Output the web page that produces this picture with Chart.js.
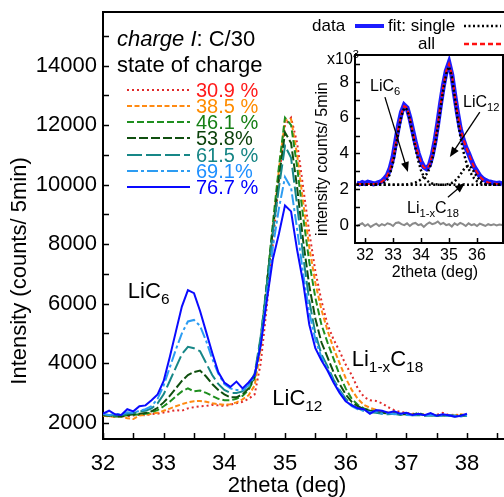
<!DOCTYPE html>
<html>
<head>
<meta charset="utf-8">
<script src="https://cdn.jsdelivr.net/npm/chart.js@4.4.0/dist/chart.umd.min.js"></script>
<style>
  html, body { margin: 0; padding: 0; background: #fff; }
  #wrap { position: relative; width: 504px; height: 497px; overflow: hidden; }
  #main { position: absolute; left: 0; top: 0; }
  #inset { position: absolute; left: 300px; top: 0; }
</style>
</head>
<body>
<div id="wrap">
  <canvas id="main" width="504" height="497"></canvas>
  <canvas id="inset" width="204" height="290"></canvas>
</div>
<script>
const FONT = '"Liberation Sans", Arial, sans-serif';

// ---- main plot data (2theta in deg, intensity in counts / 5 min) ----
const theta = [
  32.0, 32.1, 32.2, 32.3, 32.4, 32.5, 32.6, 32.7, 32.8, 32.9,
  33.0, 33.1, 33.2, 33.3, 33.4, 33.5, 33.6, 33.7, 33.8, 33.9,
  34.0, 34.1, 34.2, 34.3, 34.4, 34.5, 34.6, 34.7, 34.8, 34.9,
  35.0, 35.1, 35.2, 35.3, 35.4, 35.5, 35.6, 35.7, 35.8, 35.9,
  36.0, 36.1, 36.2, 36.3, 36.4, 36.5, 36.6, 36.7, 36.8, 36.9,
  37.0, 37.1, 37.2, 37.3, 37.4, 37.5, 37.6, 37.7, 37.8, 37.9,
  38.0
];
const soc309 = [
  2250, 2220, 2200, 2230, 2210, 2240, 2260, 2250, 2290, 2300,
  2340, 2380, 2420, 2400, 2480, 2520, 2550, 2560, 2600, 2580,
  2560, 2600, 2650, 2700, 2800, 2950, 4000, 5900, 8000, 10200,
  12000, 12250, 11400, 9900, 8400, 7100, 6100, 5300, 4800, 4400,
  3950, 3600, 3150, 2870, 2750, 2730, 2650, 2520, 2420, 2360,
  2330, 2300, 2290, 2270, 2280, 2260, 2330, 2250, 2270, 2240,
  2260
];
const soc385 = [
  2230, 2210, 2200, 2220, 2150, 2120, 2240, 2260, 2300, 2330,
  2400, 2470, 2550, 2620, 2680, 2720, 2730, 2700, 2650, 2620,
  2600, 2620, 2680, 2780, 2920, 3250, 4500, 6400, 8500, 10500,
  12150, 12200, 11000, 9400, 7900, 6700, 5800, 5100, 4500, 4000,
  3500, 3100, 2800, 2600, 2500, 2430, 2380, 2340, 2320, 2300,
  2290, 2270, 2280, 2260, 2250, 2250, 2240, 2260, 2230, 2280,
  2250
];
const soc461 = [
  2260, 2230, 2210, 2220, 2250, 2260, 2280, 2300, 2350, 2420,
  2550, 2700, 2880, 3050, 3150, 3050, 3080, 3000, 2900, 2800,
  2750, 2750, 2800, 2900, 3100, 3500, 4800, 6700, 8700, 10600,
  12250, 12000, 10600, 8900, 7400, 6200, 5300, 4700, 4150, 3600,
  3150, 2800, 2600, 2480, 2420, 2380, 2330, 2310, 2300, 2280,
  2300, 2260, 2330, 2250, 2270, 2240, 2260, 2240, 2230, 2250,
  2240
];
const soc538 = [
  2250, 2240, 2220, 2200, 2250, 2280, 2300, 2320, 2380, 2500,
  2680, 2900, 3150, 3400, 3600, 3700, 3750, 3550, 3300, 3100,
  2950, 2850, 2850, 2950, 3150, 3550, 4800, 6600, 8500, 10200,
  11750, 11400, 9900, 8100, 6600, 5500, 4700, 4200, 3700, 3300,
  2950, 2700, 2550, 2450, 2400, 2350, 2330, 2300, 2310, 2270,
  2290, 2260, 2300, 2250, 2260, 2230, 2250, 2240, 2220, 2240,
  2250
];
const soc615 = [
  2280, 2260, 2230, 2250, 2300, 2320, 2380, 2400, 2480, 2650,
  2950, 3400, 3850, 4300, 4550, 4500, 4400, 4000, 3600, 3300,
  3100, 3000, 3000, 3050, 3250, 3650, 4900, 6600, 8400, 9900,
  11300, 10900, 9300, 7600, 6100, 5000, 4300, 3900, 3450, 3100,
  2800, 2600, 2480, 2400, 2350, 2330, 2300, 2280, 2300, 2260,
  2280, 2250, 2260, 2230, 2250, 2220, 2240, 2230, 2210, 2230,
  2230
];
const soc691 = [
  2300, 2250, 2300, 2270, 2350, 2330, 2400, 2450, 2550, 2800,
  3250, 3850, 4450, 5000, 5400, 5450, 5250, 4750, 4150, 3650,
  3300, 3150, 3100, 3100, 3250, 3550, 4700, 6300, 7900, 9200,
  10250, 9900, 8500, 7000, 5700, 4800, 4200, 3800, 3400, 3050,
  2750, 2550, 2450, 2400, 2350, 2380, 2300, 2320, 2280, 2300,
  2260, 2250, 2280, 2230, 2260, 2240, 2220, 2250, 2230, 2210,
  2240
];
const soc767 = [
  2300, 2400, 2280, 2260, 2450, 2380, 2550, 2580, 2750, 2950,
  3400, 4200, 5050, 5900, 6450, 6350, 5750, 5050, 4350, 3700,
  3350, 3200, 3380, 3150, 3350, 3600, 4600, 6100, 7500, 8350,
  9300, 9100, 7800, 6700, 5300, 4500, 4100, 3750, 3350, 3000,
  2720, 2580, 2480, 2450, 2300, 2420, 2400, 2330, 2380, 2300,
  2330, 2260, 2300, 2250, 2320, 2230, 2280, 2250, 2200, 2230,
  2300
];
const socLabels = ['30.9 %', '38.5 %', '46.1 %', '53.8%', '61.5 %', '69.1%', '76.7 %'];
const xTicks = [32, 33, 34, 35, 36, 37, 38];
const yTicks = [2000, 4000, 6000, 8000, 10000, 12000, 14000];

// ---- inset data (x10^3 counts / 5 min) ----
const insetTheta = [
  31.7, 31.8, 31.9,
  32.0, 32.1, 32.2, 32.3, 32.4, 32.5, 32.6, 32.7, 32.8, 32.9,
  33.0, 33.1, 33.2, 33.3, 33.4, 33.5, 33.6, 33.7, 33.8, 33.9,
  34.0, 34.1, 34.2, 34.3, 34.4, 34.5, 34.6, 34.7, 34.8, 34.9,
  35.0, 35.1, 35.2, 35.3, 35.4, 35.5, 35.6, 35.7, 35.8, 35.9,
  36.0, 36.1, 36.2, 36.3, 36.4, 36.5, 36.6, 36.7, 36.8, 36.9
];
const insetData = [
  2.35, 2.30, 2.38,
  2.32, 2.40, 2.36, 2.30, 2.33, 2.38, 2.45, 2.60, 2.80, 3.20,
  3.80, 4.70, 5.60, 6.30, 6.70, 6.55, 6.00, 5.30, 4.60, 4.00,
  3.55, 3.25, 3.15, 3.35, 3.90, 4.70, 5.70, 6.80, 7.80, 8.60,
  9.05, 8.40, 7.30, 6.30, 5.40, 4.80, 4.35, 4.00, 3.60, 3.25,
  3.00, 2.75, 2.60, 2.50, 2.42, 2.40, 2.35, 2.33, 2.35, 2.30
];
const insetFitAll = [
  2.30, 2.30, 2.30,
  2.30, 2.30, 2.30, 2.30, 2.31, 2.35, 2.42, 2.55, 2.78, 3.15,
  3.75, 4.60, 5.50, 6.25, 6.65, 6.55, 6.00, 5.25, 4.55, 3.95,
  3.50, 3.22, 3.15, 3.35, 3.90, 4.70, 5.70, 6.80, 7.80, 8.60,
  9.00, 8.45, 7.35, 6.30, 5.45, 4.85, 4.40, 4.00, 3.60, 3.22,
  2.95, 2.72, 2.55, 2.45, 2.38, 2.34, 2.32, 2.30, 2.30, 2.30
];
const fitLiC6 = [
  2.25, 2.25, 2.25,
  2.25, 2.25, 2.25, 2.25, 2.25, 2.27, 2.30, 2.38, 2.55, 2.90,
  3.50, 4.35, 5.30, 6.10, 6.55, 6.45, 5.90, 5.10, 4.30, 3.60,
  3.05, 2.70, 2.50, 2.38, 2.32, 2.28, 2.26, 2.25, 2.25, 2.25,
  2.25, 2.25, 2.25, 2.25, 2.25, 2.25, 2.25, 2.25, 2.25, 2.25,
  2.25, 2.25, 2.25, 2.25, 2.25, 2.25, 2.25, 2.25, 2.25, 2.25
];
const fitLiC12 = [
  2.25, 2.25, 2.25,
  2.25, 2.25, 2.25, 2.25, 2.25, 2.25, 2.25, 2.25, 2.25, 2.25,
  2.25, 2.25, 2.25, 2.25, 2.25, 2.27, 2.30, 2.33, 2.38, 2.45,
  2.55, 2.70, 2.85, 3.15, 3.65, 4.45, 5.45, 6.55, 7.60, 8.45,
  8.85, 8.30, 7.20, 6.00, 5.00, 4.20, 3.60, 3.15, 2.85, 2.60,
  2.45, 2.36, 2.30, 2.27, 2.25, 2.25, 2.25, 2.25, 2.25, 2.25
];
const fitLiC18 = [
  2.25, 2.25, 2.25,
  2.25, 2.25, 2.25, 2.25, 2.25, 2.25, 2.25, 2.25, 2.25, 2.25,
  2.25, 2.25, 2.25, 2.25, 2.25, 2.25, 2.25, 2.25, 2.25, 2.25,
  2.25, 2.25, 2.25, 2.25, 2.25, 2.25, 2.25, 2.25, 2.25, 2.27,
  2.30, 2.35, 2.45, 2.60, 2.80, 3.05, 3.25, 3.30, 3.20, 2.95,
  2.70, 2.50, 2.38, 2.30, 2.27, 2.25, 2.25, 2.25, 2.25, 2.25
];
const residual = [
  -0.05, 0.02, 0.10,
  -0.05, 0.05, -0.10, 0.00, 0.08, -0.05, 0.05, -0.02, 0.10, 0.05,
  -0.05, 0.12, 0.15, 0.05, 0.00, 0.10, -0.05, 0.08, 0.12, 0.00,
  0.05, -0.10, 0.05, 0.15, 0.05, 0.10, 0.20, 0.05, 0.12, 0.00,
  0.05, -0.08, 0.10, 0.00, 0.12, 0.05, -0.05, 0.10, 0.00, 0.05,
  -0.05, 0.08, 0.02, -0.05, 0.05, 0.00, 0.05, -0.02, 0.03, 0.00
];
const insetXTicks = [32, 33, 34, 35, 36];
const insetYTicks = [0, 2, 4, 6, 8];

// ---- styles ----
const socSeries = [soc309, soc385, soc461, soc538, soc615, soc691, soc767];
const lineColors = ['#e02a2a', '#ff8a12', '#1f8f1f', '#0f4f0f', '#178787', '#2c9cf2', '#0a0aff'];
const textColors = ['#ff1a1a', '#ff8c00', '#168016', '#0c420c', '#168585', '#1e90ff', '#0000ff'];
const dashes = [[2, 3], [5, 2.5], [7, 3], [9, 3], [15, 4], [11, 3, 3, 3], []];

function pts(xs, ys) {
  return xs.map((t, i) => ({ x: t, y: ys[i] }));
}

// text with italic / sub / superscript parts
function richText(ctx, x, y, parts, size) {
  let cx = x;
  for (const p of parts) {
    const small = p[1] === 'sub' || p[1] === 'sup';
    const s = small ? size * 0.7 : size;
    ctx.font = (p[1] === 'italic' ? 'italic ' : '') + s + 'px ' + FONT;
    const dy = p[1] === 'sub' ? size * 0.27 : p[1] === 'sup' ? -size * 0.4 : 0;
    ctx.fillText(p[0], cx, y + dy);
    cx += ctx.measureText(p[0]).width;
  }
}

function arrow(ctx, x1, y1, x2, y2) {
  const a = Math.atan2(y2 - y1, x2 - x1), L = 10, W = 4;
  const c = Math.cos(a), s = Math.sin(a);
  ctx.beginPath(); ctx.moveTo(x1, y1); ctx.lineTo(x2 - L * c * 0.8, y2 - L * s * 0.8); ctx.stroke();
  ctx.beginPath();
  ctx.moveTo(x2, y2);
  ctx.lineTo(x2 - L * c + W * s, y2 - L * s - W * c);
  ctx.lineTo(x2 - L * c - W * s, y2 - L * s + W * c);
  ctx.closePath(); ctx.fill();
}

function inTicks(ctx, scale, vals, len, area) {
  ctx.beginPath();
  for (const v of vals) {
    if (scale.isHorizontal()) {
      const px = Math.round(scale.getPixelForValue(v)) + 0.5;
      ctx.moveTo(px, area.bottom); ctx.lineTo(px, area.bottom - len);
    } else {
      const py = Math.round(scale.getPixelForValue(v)) + 0.5;
      ctx.moveTo(area.left, py); ctx.lineTo(area.left + len, py);
    }
  }
  ctx.stroke();
}

// ---- main chart decorations ----
const mainDecor = {
  id: 'mainDecor',
  afterDraw(chart) {
    const { ctx, chartArea: a, scales: { x, y } } = chart;
    ctx.save();
    ctx.strokeStyle = '#000';
    ctx.fillStyle = '#000';
    ctx.lineWidth = 2;
    ctx.beginPath(); ctx.moveTo(a.left - 1, a.top); ctx.lineTo(a.right, a.top); ctx.stroke();

    ctx.lineWidth = 1.5;
    const xm = [], ym = [];
    for (let v = 32; v <= 38.6; v += 0.5) xm.push(v);
    for (let v = 2000; v <= 15000; v += 1000) ym.push(v);
    inTicks(ctx, x, xm, 6, a);
    inTicks(ctx, y, ym, 6, a);

    // axis titles
    ctx.textBaseline = 'middle';
    ctx.textAlign = 'center';
    ctx.font = '22px ' + FONT;
    ctx.fillText('2theta (deg)', 287, 486);
    ctx.save();
    ctx.translate(20, 271);
    ctx.rotate(-Math.PI / 2);
    ctx.fillText('Intensity (counts/ 5min)', 0, 0);
    ctx.restore();

    // header and legend
    ctx.textAlign = 'left';
    ctx.textBaseline = 'alphabetic';
    richText(ctx, 117, 46, [['charge I', 'italic'], [': C/30', '']], 22);
    richText(ctx, 117, 72, [['state of charge', '']], 22);
    const rowY = [90, 106, 122, 138, 155, 171, 187];
    chart.data.datasets.forEach((ds, i) => {
      ctx.strokeStyle = ds.borderColor;
      ctx.lineWidth = 2;
      ctx.setLineDash(ds.borderDash);
      ctx.beginPath(); ctx.moveTo(127, rowY[i]); ctx.lineTo(190, rowY[i]); ctx.stroke();
      ctx.setLineDash([]);
      ctx.fillStyle = textColors[i];
      richText(ctx, 196, rowY[i] + 7, [[ds.label, '']], 20);
    });

    // phase labels
    ctx.fillStyle = '#000';
    richText(ctx, x.getPixelForValue(32.41), y.getPixelForValue(6200), [['LiC', ''], ['6', 'sub']], 22);
    richText(ctx, x.getPixelForValue(34.79), y.getPixelForValue(2600), [['LiC', ''], ['12', 'sub']], 22);
    richText(ctx, x.getPixelForValue(36.1), y.getPixelForValue(3900), [['Li', ''], ['1-x', 'sub'], ['C', ''], ['18', 'sub']], 22);
    ctx.restore();
  }
};

new Chart(document.getElementById('main'), {
  type: 'line',
  data: {
    datasets: socSeries.map((vals, i) => ({
      label: socLabels[i],
      data: pts(theta, vals),
      borderColor: lineColors[i],
      borderDash: dashes[i],
      borderWidth: 2,
      pointRadius: 0,
      fill: false,
      tension: 0,
      order: socSeries.length - i
    }))
  },
  options: {
    responsive: false,
    animation: false,
    devicePixelRatio: 1,
    layout: { padding: { top: 12, left: 0, right: 0, bottom: 0 } },
    plugins: { legend: { display: false }, tooltip: { enabled: false } },
    scales: {
      x: {
        type: 'linear', min: 32, max: 38.61,
        afterBuildTicks: s => { s.ticks = xTicks.map(v => ({ value: v })); },
        afterFit: s => { s.height = 58; s.paddingLeft = 0; s.paddingRight = 0; },
        grid: { display: false, drawTicks: false },
        border: { display: true, color: '#000', width: 2 },
        ticks: { color: '#000', padding: 12, maxRotation: 0, font: { family: FONT, size: 22 }, callback: v => String(v) }
      },
      y: {
        type: 'linear', min: 1450, max: 15800,
        afterBuildTicks: s => { s.ticks = yTicks.map(v => ({ value: v })); },
        afterFit: s => { s.width = 103; s.paddingTop = 0; s.paddingBottom = 0; },
        grid: { display: false, drawTicks: false },
        border: { display: true, color: '#000', width: 2 },
        ticks: { color: '#000', padding: 6, font: { family: FONT, size: 22 }, callback: v => String(v) }
      }
    }
  },
  plugins: [mainDecor]
});

// ---- inset decorations ----
const insetDecor = {
  id: 'insetDecor',
  afterDraw(chart) {
    const { ctx, chartArea: a, scales: { x, y } } = chart;
    ctx.save();
    ctx.strokeStyle = '#000';
    ctx.fillStyle = '#000';
    ctx.lineWidth = 2;
    ctx.strokeRect(a.left, a.top, a.right - a.left, a.bottom - a.top);
    ctx.lineWidth = 1.5;
    inTicks(ctx, x, insetXTicks, 5, a);
    const ym = [];
    for (let v = 0; v <= 9; v += 1) ym.push(v);
    inTicks(ctx, y, ym, 5, a);

    ctx.textAlign = 'center';
    ctx.textBaseline = 'middle';
    ctx.font = '16px ' + FONT;
    ctx.fillText('2theta (deg)', 135, 273);
    ctx.save();
    ctx.translate(23, 159);
    ctx.rotate(-Math.PI / 2);
    ctx.fillText('intensity counts/ 5min', 0, 0);
    ctx.restore();

    ctx.textAlign = 'left';
    ctx.textBaseline = 'alphabetic';
    richText(ctx, 27, 64, [['x10', ''], ['3', 'sup']], 16);

    // legend
    const ds = chart.data.datasets;
    richText(ctx, 12, 31, [['data', '']], 17);
    ctx.strokeStyle = ds[0].borderColor; ctx.lineWidth = 4;
    ctx.beginPath(); ctx.moveTo(55, 26); ctx.lineTo(84, 26); ctx.stroke();
    richText(ctx, 88, 31, [['fit: single', '']], 17);
    ctx.strokeStyle = ds[2].borderColor; ctx.lineWidth = 2.5; ctx.setLineDash(ds[2].borderDash);
    ctx.beginPath(); ctx.moveTo(164, 26); ctx.lineTo(201, 26); ctx.stroke();
    richText(ctx, 118, 49, [['all', '']], 17);
    ctx.strokeStyle = ds[1].borderColor; ctx.lineWidth = 2.5; ctx.setLineDash(ds[1].borderDash);
    ctx.beginPath(); ctx.moveTo(164, 44); ctx.lineTo(201, 44); ctx.stroke();
    ctx.setLineDash([]);

    // peak labels with arrows
    const P = (tx, ty) => [x.getPixelForValue(tx), y.getPixelForValue(ty)];
    ctx.strokeStyle = '#000'; ctx.lineWidth = 1.3;
    let p = P(32.18, 7.49);
    richText(ctx, p[0], p[1], [['LiC', ''], ['6', 'sub']], 16);
    arrow(ctx, ...P(32.71, 7.15), ...P(33.53, 2.96));
    p = P(35.5, 6.59);
    richText(ctx, p[0], p[1], [['LiC', ''], ['12', 'sub']], 16);
    arrow(ctx, ...P(36.1, 6.31), ...P(35.03, 3.8));
    p = P(33.5, 0.67);
    richText(ctx, p[0], p[1], [['Li', ''], ['1-x', 'sub'], ['C', ''], ['18', 'sub']], 16);
    arrow(ctx, ...P(34.96, 1.56), ...P(35.57, 2.35));
    ctx.restore();
  }
};

const dotted = { borderColor: '#000', borderDash: [2, 2.5], borderWidth: 2.5, pointRadius: 0, tension: 0 };

new Chart(document.getElementById('inset'), {
  type: 'line',
  data: {
    datasets: [
      { label: 'data', data: pts(insetTheta, insetData), borderColor: '#1c1cff', borderWidth: 5, pointRadius: 0, tension: 0, order: 5 },
      { label: 'all', data: pts(insetTheta, insetFitAll), borderColor: '#ff1010', borderDash: [5, 3], borderWidth: 2, pointRadius: 0, tension: 0, order: 4 },
      Object.assign({ label: 'LiC6', data: pts(insetTheta, fitLiC6), order: 1 }, dotted),
      Object.assign({ label: 'LiC12', data: pts(insetTheta, fitLiC12), order: 2 }, dotted),
      Object.assign({ label: 'Li1-xC18', data: pts(insetTheta, fitLiC18), order: 3 }, dotted),
      { label: 'residual', data: pts(insetTheta, residual), borderColor: '#8a8a8a', borderWidth: 2, pointRadius: 0, tension: 0, order: 6 }
    ]
  },
  options: {
    responsive: false,
    animation: false,
    devicePixelRatio: 1,
    layout: { padding: { top: 55, left: 0, right: 1, bottom: 0 } },
    plugins: { legend: { display: false }, tooltip: { enabled: false } },
    scales: {
      x: {
        type: 'linear', min: 31.64, max: 36.93,
        afterBuildTicks: s => { s.ticks = insetXTicks.map(v => ({ value: v })); },
        afterFit: s => { s.height = 47; s.paddingLeft = 0; s.paddingRight = 0; },
        grid: { display: false, drawTicks: false },
        border: { display: false },
        ticks: { color: '#000', padding: 3, maxRotation: 0, font: { family: FONT, size: 16 }, callback: v => String(v) }
      },
      y: {
        type: 'linear', min: -1, max: 9.5,
        afterBuildTicks: s => { s.ticks = insetYTicks.map(v => ({ value: v })); },
        afterFit: s => { s.width = 55; s.paddingTop = 0; s.paddingBottom = 0; },
        grid: { display: false, drawTicks: false },
        border: { display: false },
        ticks: { color: '#000', padding: 6, font: { family: FONT, size: 17 }, callback: v => String(v) }
      }
    }
  },
  plugins: [insetDecor]
});
</script>
</body>
</html>
